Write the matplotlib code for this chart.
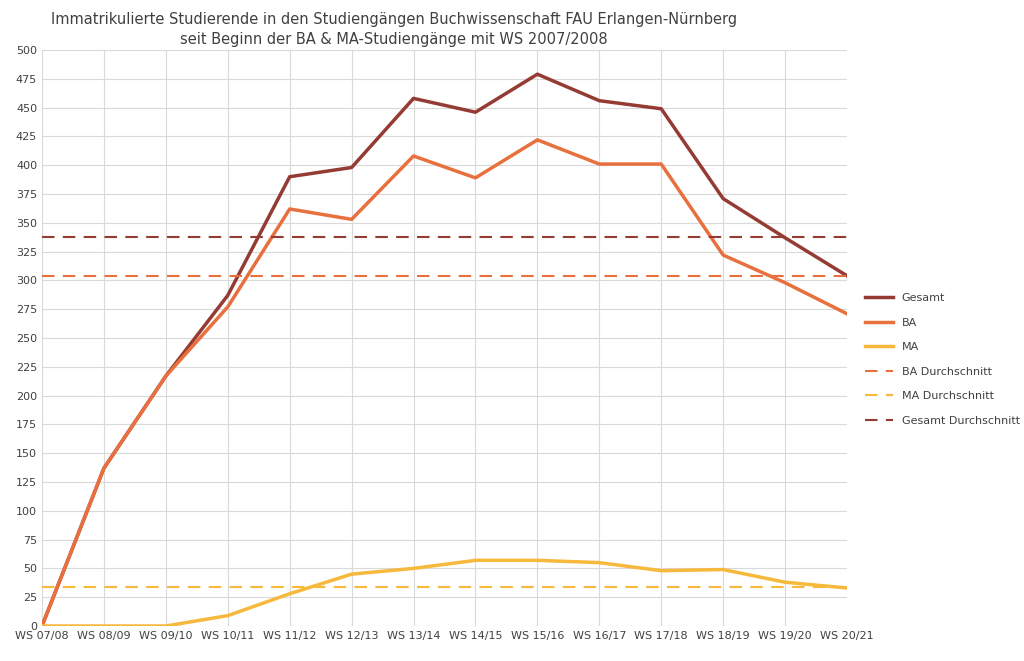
import matplotlib
matplotlib.use("Agg")
import matplotlib.pyplot as plt

categories = ["WS 07/08","WS 08/09","WS 09/10","WS 10/11","WS 11/12","WS 12/13","WS 13/14",
              "WS 14/15","WS 15/16","WS 16/17","WS 17/18","WS 18/19","WS 19/20","WS 20/21"]
gesamt = [0,137,217,287,390,398,458,446,479,456,449,371,337,304]
ba = [0,137,217,277,362,353,408,389,422,401,401,322,298,271]
ma = [0,0,0,9,28,45,50,57,57,55,48,49,38,33]
ba_avg = 304
ma_avg = 33.5
gesamt_avg = 338

c_g = "#943B33"; c_b = "#E8703F"; c_m = "#F6B93B"
fig = plt.figure(figsize=(10.24,6.61), dpi=100)
ax = fig.add_axes([42/1024, 35/661, 805/1024, 576/661])
x = range(len(categories))
ax.plot(x, gesamt, color=c_g, lw=2.5, label="Gesamt")
ax.plot(x, ba, color=c_b, lw=2.5, label="BA")
ax.plot(x, ma, color=c_m, lw=2.5, label="MA")
ax.axhline(ba_avg, color=c_b, lw=1.5, ls=(0,(6,4)), label="BA Durchschnitt")
ax.axhline(ma_avg, color=c_m, lw=1.5, ls=(0,(6,4)), label="MA Durchschnitt")
ax.axhline(gesamt_avg, color=c_g, lw=1.5, ls=(0,(6,4)), label="Gesamt Durchschnitt")
ax.set_xlim(0, len(categories)-1)
ax.set_ylim(0, 500)
ax.set_yticks(range(0, 501, 25))
ax.set_xticks(list(x))
ax.set_xticklabels(categories)
ax.grid(True, color="#D9D9D9", lw=0.8)
ax.set_axisbelow(True)
for s in ax.spines.values():
    s.set_visible(False)
ax.tick_params(length=0, labelsize=8, colors="#404040")
fig.text(0.385, 0.955, "Immatrikulierte Studierende in den Studiengängen Buchwissenschaft FAU Erlangen-Nürnberg\nseit Beginn der BA & MA-Studiengänge mit WS 2007/2008",
         ha="center", va="center", fontsize=10.5, color="#404040", linespacing=1.4)
ax.legend(loc="upper left", bbox_to_anchor=(1.01, 0.595), frameon=False, fontsize=8,
          labelspacing=1.3, handlelength=2.5, labelcolor="#404040")
fig.savefig("out.png", dpi=100)
